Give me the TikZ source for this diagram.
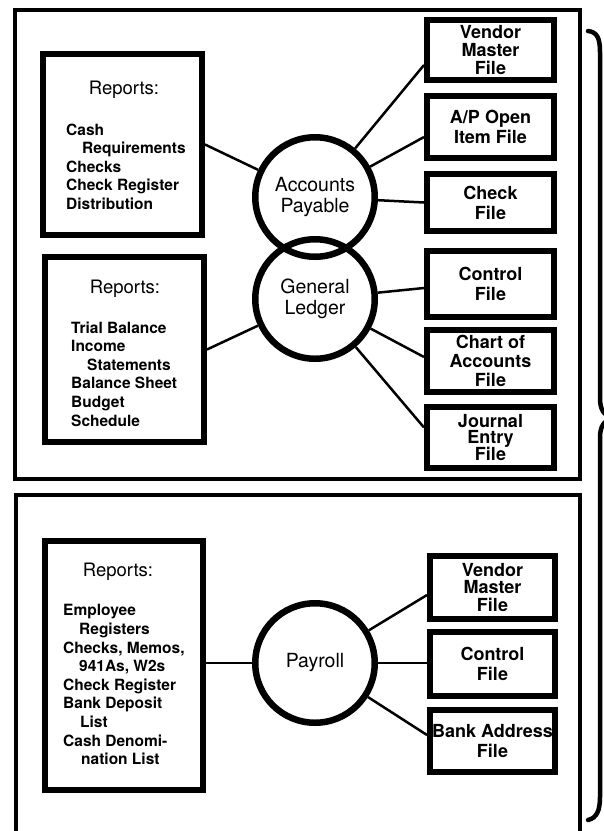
\documentclass[tikz,border=0pt]{standalone}
\usepackage{fontspec}
\setmainfont{TeX Gyre Heros}
\begin{document}
\begin{tikzpicture}[x=1pt,y=-1pt,
  frame/.style={line width=3.2pt},
  repbox/.style={draw,rectangle,line width=6pt,inner sep=0pt},
  filebox/.style={draw,rectangle,line width=6pt,inner sep=0pt,align=center,
    font=\fontsize{18}{20}\selectfont\bfseries},
  proc/.style={draw,circle,line width=6.5pt,inner sep=0pt,minimum size=119.5pt,
    align=center,font=\fontsize{19.5}{21}\selectfont},
  reptitle/.style={inner sep=0pt,anchor=base,font=\fontsize{18.5}{20}\selectfont},
  replist/.style={inner sep=0pt,anchor=north west,align=left,
    font=\fontsize{15.5}{18.6}\selectfont\bfseries},
  link/.style={line width=2.5pt},
  bracestroke/.style={line width=4.5pt,line cap=round}
]
\useasboundingbox (0,0) rectangle (604,831);
\fill[white] (0,0) rectangle (604,831);
\clip (0,0) rectangle (604,831);

% frames
\draw[frame] (15,10) rectangle (580,479);
\draw[frame] (16,840) -- (16,495) -- (580,495) -- (580,840);

% brace
\draw[bracestroke] (588,31) .. controls (597,32) and (600,38) .. (600,52)
  -- (600,398) .. controls (600,410) and (604,416) .. (614,418)
  .. controls (604,420) and (600,426) .. (600,438)
  -- (600,797) .. controls (600,810) and (597,818) .. (588,820);

% report boxes
\node[repbox,minimum width=159pt,minimum height=181pt] (r1) at (122.5,144.5) {};
\node[repbox,minimum width=159pt,minimum height=185pt] (r2) at (124.5,349.5) {};
\node[repbox,minimum width=158pt,minimum height=249pt] (r3) at (124,665.5) {};

\node[reptitle] (t1) at (124,94.7) {Reports:};
\node[reptitle] (t2) at (125,293.7) {Reports:};
\node[reptitle] (t3) at (118,576.7) {Reports:};

\node[replist] (l1) at (66,123.4) {Cash\\\hspace*{16pt}Requirements\\Checks\\Check Register\\Distribution};
\node[replist] (l2) at (71,321.4) {Trial Balance\\Income\\\hspace*{16pt}Statements\\Balance Sheet\\Budget\\Schedule};
\node[replist] (l3) at (63,604.4) {Employee\\\hspace*{16pt}Registers\\Checks, Memos,\\\hspace*{16pt}941As, W2s\\Check Register\\Bank Deposit\\\hspace*{17pt}List\\Cash Denomi-\\\hspace*{18pt}nation List};

% process circles
\node[proc] (ap) at (315,197) {Accounts\\Payable};
\node[proc] (gl) at (315,299) {General\\Ledger};
\node[proc] (pr) at (315,663) {Payroll};

% file boxes (top)
\node[filebox,minimum width=127pt,minimum height=60pt] (vm1) at (490.5,50) {Vendor\\[-2pt]Master\\[-2pt]File};
\node[filebox,minimum width=127pt,minimum height=62pt] (apf) at (490.5,127) {A/P Open\\Item File};
\node[filebox,minimum width=127pt,minimum height=57pt] (chk) at (490.5,202.5) {Check\\File};
\node[filebox,minimum width=127pt,minimum height=66pt] (ctl1) at (490.5,284) {Control\\File};
\node[filebox,minimum width=127pt,minimum height=62pt] (coa) at (490.5,361) {Chart of\\[-1pt]Accounts\\[-1pt]File};
\node[filebox,minimum width=127pt,minimum height=61pt] (je) at (490.5,437.5) {Journal\\[-3.5pt]Entry\\[-3.5pt]File};

% file boxes (bottom)
\node[filebox,minimum width=125pt,minimum height=63pt] (vm2) at (492.5,587.5) {Vendor\\[-2.5pt]Master\\[-2.5pt]File};
\node[filebox,minimum width=125pt,minimum height=64pt] (ctl2) at (492.5,664) {Control\\File};
\node[filebox,minimum width=125pt,minimum height=62pt] (bank) at (492.5,741) {Bank Address\\File};

% connectors
\draw[link] (ap) -- (r1.east);
\draw[link] (ap) -- ([yshift=-15pt]vm1.west);
\draw[link] (ap) -- ([yshift=-10pt]apf.west);
\draw[link] (ap) -- (chk.west);
\draw[link] (gl) -- (r2.east);
\draw[link] (gl) -- ([yshift=-4pt]ctl1.west);
\draw[link] (gl) -- ([yshift=4pt]coa.west);
\draw[link] (gl) -- ([yshift=10pt]je.west);
\draw[link] (pr.west) -- (pr.west -| r3.east);
\draw[link] (pr) -- ([yshift=-7.5pt]vm2.west);
\draw[link] (pr.east) -- (pr.east -| ctl2.west);
\draw[link] (pr) -- ([yshift=6pt]bank.west);
\end{tikzpicture}
\end{document}
